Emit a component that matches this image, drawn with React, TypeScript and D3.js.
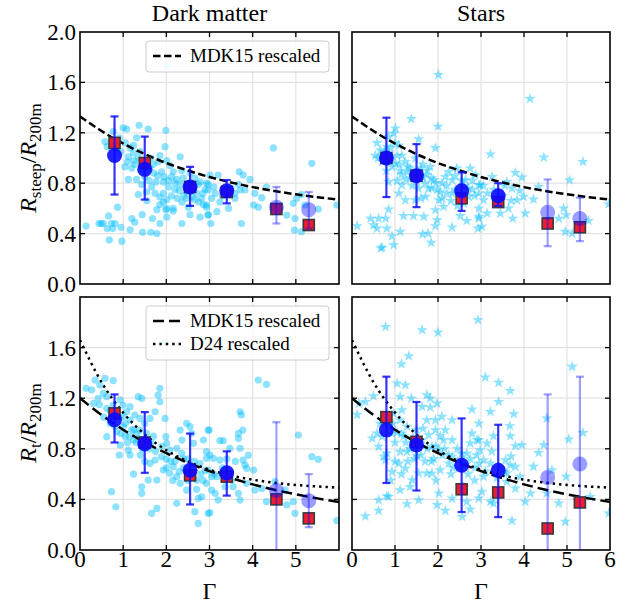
import React from "react";
import * as d3 from "d3";

const W = 641;
const H = 606;
const FONT = "'Liberation Serif', 'Times New Roman', serif";

// ---------- model curves ----------
const curveGamma = [0, 0.5, 1, 1.5, 2, 2.5, 3, 3.5, 4, 4.5, 5, 5.5, 6];
const mdkSteep = [1.33, 1.214, 1.115, 1.031, 0.96, 0.901, 0.849, 0.806, 0.769, 0.738, 0.712, 0.689, 0.67];
const mdkRt = [1.2, 1.067, 0.951, 0.851, 0.765, 0.69, 0.624, 0.568, 0.519, 0.476, 0.44, 0.408, 0.38];
const d24Rt = [1.66, 1.326, 1.086, 0.914, 0.789, 0.7, 0.635, 0.589, 0.556, 0.532, 0.514, 0.502, 0.493];

// ---------- binned statistics ----------
const binGamma = [0.8, 1.5, 2.55, 3.4, 4.55, 5.3];

const dmSteepMed = [1.02, 0.91, 0.77, 0.74, 0.61, 0.59];
const dmSteepLo = [0.71, 0.67, 0.62, 0.64, 0.48, 0.44];
const dmSteepHi = [1.33, 1.17, 0.93, 0.825, 0.77, 0.73];
const dmSteepSq = [1.12, 0.96, 0.77, 0.73, 0.595, 0.468];

const stSteepMed = [1.0, 0.86, 0.74, 0.7, 0.57, 0.52];
const stSteepLo = [0.69, 0.61, 0.58, 0.62, 0.3, 0.34];
const stSteepHi = [1.32, 1.11, 0.886, 0.8, 0.83, 0.685];
const stSteepSq = [1.0, 0.86, 0.68, 0.65, 0.48, 0.45];

const dmRtMed = [1.03, 0.84, 0.63, 0.61, 0.47, 0.39];
const dmRtLo = [0.85, 0.61, 0.36, 0.43, -0.2, 0.18];
const dmRtHi = [1.23, 1.09, 0.92, 0.78, 1.01, 0.6];
const dmRtSq = [1.08, 0.85, 0.59, 0.58, 0.4, 0.25];

const stRtMed = [0.95, 0.83, 0.67, 0.63, 0.574, 0.68];
const stRtLo = [0.53, 0.47, 0.3, 0.26, -0.2, -0.2];
const stRtHi = [1.37, 1.17, 1.04, 0.99, 1.23, 1.37];
const stRtSq = [1.05, 0.855, 0.48, 0.455, 0.17, 0.376];

// ---------- individual haloes ----------
const dmSteepPts = [
  [1.0, 1.24], [1.08, 1.23], [1.37, 1.26], [1.58, 1.23], [1.99, 1.22], [0.77, 1.21], [0.58, 1.13], [0.63, 1.09],
  [0.91, 1.16], [1.16, 1.08], [1.31, 1.16], [1.24, 1.1], [1.39, 1.05], [1.24, 1.04], [1.12, 1.01], [1.04, 0.93],
  [1.2, 0.92], [1.27, 0.95], [1.41, 0.9], [1.62, 0.92], [1.64, 1.0], [1.85, 1.02], [1.81, 0.97], [1.71, 0.88],
  [1.89, 0.89], [1.97, 1.09], [2.01, 0.98], [2.08, 0.94], [2.16, 0.89], [1.93, 0.81], [1.76, 0.81], [1.66, 0.77],
  [1.54, 0.73], [1.43, 0.79], [1.31, 0.83], [1.12, 0.83], [1.35, 0.71], [1.74, 0.72], [1.93, 0.72], [2.05, 0.77],
  [2.12, 0.85], [2.24, 0.83], [2.32, 1.01], [2.36, 0.9], [2.39, 0.84], [2.32, 0.79], [2.2, 0.75], [2.01, 0.67],
  [1.85, 0.63], [2.01, 0.6], [2.16, 0.6], [2.36, 0.65], [2.47, 0.73], [2.66, 0.84], [2.74, 0.79], [2.7, 0.72],
  [2.66, 0.67], [2.82, 0.68], [2.86, 0.63], [2.93, 0.61], [2.78, 0.81], [2.55, 0.88], [2.9, 0.75], [2.97, 0.79],
  [1.85, 0.69], [2.12, 0.7], [1.93, 0.65], [2.46, 0.68], [1.78, 0.59],
  [0.14, 0.46], [0.44, 0.48], [0.54, 0.48], [0.63, 0.44], [0.73, 0.48], [0.81, 0.48], [0.66, 0.54], [0.87, 0.61],
  [0.95, 0.45], [1.16, 0.43], [1.2, 0.52], [1.27, 0.49], [1.44, 0.55], [1.45, 0.41], [1.64, 0.41], [1.78, 0.4],
  [1.68, 0.52], [1.85, 0.48], [2.01, 0.53], [1.99, 0.59], [2.16, 0.58], [2.36, 0.48], [2.51, 0.61], [2.55, 0.55],
  [2.97, 0.55], [2.78, 0.53], [0.68, 0.35], [0.97, 0.34], [0.49, 0.48], [0.76, 0.44], [2.01, 1.73],
  [0.75, 1.1], [0.85, 1.08], [0.95, 1.05], [1.05, 1.12], [1.1, 0.97], [1.25, 0.98], [1.35, 1.0], [1.45, 0.97],
  [1.5, 0.85], [1.6, 0.82], [1.7, 0.95], [1.8, 0.86], [1.95, 0.85], [2.05, 0.82], [2.2, 0.8], [2.3, 0.74],
  [2.4, 0.7], [2.55, 0.75], [2.6, 0.69], [2.75, 0.65], [2.85, 0.72], [3.1, 0.77], [3.3, 0.7], [3.5, 0.76],
  [1.55, 0.66], [2.25, 0.68],
  [3.01, 0.865], [2.93, 0.8], [2.97, 0.746], [3.13, 0.72], [3.2, 0.865], [3.05, 0.68], [3.24, 0.65], [2.93, 0.627],
  [3.17, 0.574], [3.44, 0.6], [2.97, 0.547], [3.03, 0.48], [3.69, 0.89], [3.78, 0.865], [3.94, 0.83], [3.71, 0.746],
  [3.59, 0.72], [3.59, 0.68], [3.82, 0.746], [4.05, 0.72], [4.02, 0.627], [4.13, 0.61], [4.21, 0.685], [4.32, 0.77],
  [4.48, 1.08], [4.79, 0.547], [4.94, 0.64], [4.98, 0.52], [5.02, 0.68], [5.13, 0.71], [5.37, 0.958], [5.21, 0.627],
  [5.52, 0.595], [4.97, 0.428], [5.13, 0.415], [3.74, 0.48], [5.95, 0.627], [3.67, 0.79],
];

const stSteepPts = [
  [1.38, 1.31], [2.0, 1.25], [1.01, 1.235], [0.97, 1.195], [0.85, 1.17], [0.58, 1.12], [0.66, 1.06], [0.54, 1.02],
  [0.81, 1.09], [1.09, 1.1], [1.16, 1.02], [1.24, 0.97], [1.01, 0.957], [1.12, 0.9], [1.28, 0.89], [1.36, 0.84],
  [1.16, 0.785], [0.93, 0.93], [0.85, 0.81], [1.55, 1.15], [1.94, 1.08], [1.82, 0.93], [1.74, 0.865], [1.9, 0.825],
  [1.98, 0.746], [2.09, 0.8], [2.17, 0.85], [2.25, 0.89], [2.33, 0.825], [2.44, 0.918], [2.75, 0.918], [2.64, 0.825],
  [2.87, 0.865], [2.95, 0.785], [2.71, 0.693], [2.6, 0.64], [2.33, 0.72], [2.13, 0.613], [2.02, 0.666], [1.94, 0.587],
  [1.71, 0.693], [1.78, 0.759], [1.63, 0.85], [1.47, 0.997], [0.12, 0.46], [0.43, 0.52], [0.62, 0.52], [0.78, 0.52],
  [0.5, 0.468], [0.58, 0.441], [0.85, 0.592], [0.81, 0.441], [0.93, 0.38], [0.97, 0.31], [0.7, 0.29], [1.2, 0.54],
  [1.43, 0.54], [1.67, 0.534], [1.64, 0.396], [1.77, 0.402], [1.84, 0.328], [1.12, 0.415], [1.98, 0.508], [1.94, 0.46],
  [2.33, 0.45], [2.52, 0.54], [2.67, 0.502], [2.95, 0.52], [2.93, 0.441], [1.47, 0.666], [1.24, 0.666], [1.09, 0.72],
  [1.55, 0.759], [2.01, 1.66], [4.14, 1.47], [0.67, 0.283],
  [1.3, 0.93], [1.45, 0.88], [1.6, 0.92], [1.7, 0.8], [1.85, 0.76], [2.05, 0.73], [2.2, 0.78], [2.4, 0.75],
  [2.5, 0.7], [2.6, 0.78], [2.8, 0.75], [1.05, 1.02], [0.9, 1.0], [1.5, 0.82],
  [0.6, 1.0], [0.7, 0.97], [0.75, 1.05], [0.9, 1.08], [1.0, 1.12], [1.1, 0.95], [1.15, 0.87], [1.25, 0.83],
  [1.35, 0.92], [1.4, 0.78], [1.55, 0.88], [1.65, 0.95], [1.75, 0.9], [1.85, 0.84], [1.95, 0.8], [2.1, 0.68],
  [2.2, 0.72], [2.3, 0.66], [2.45, 0.62], [2.55, 0.82], [2.7, 0.76], [2.8, 0.82], [2.85, 0.7], [3.05, 0.78],
  [3.15, 0.72], [3.3, 0.75], [3.35, 0.66], [3.5, 0.7], [3.55, 0.78], [3.7, 0.66], [3.9, 0.74], [0.8, 0.9],
  [1.05, 0.82], [1.6, 0.68], [2.4, 0.86],
  [3.22, 1.03], [4.46, 1.005], [5.37, 0.97], [5.06, 0.825], [3.26, 0.85], [3.8, 0.883], [3.95, 0.846], [2.98, 0.785],
  [2.95, 0.72], [3.06, 0.666], [3.14, 0.56], [2.95, 0.534], [3.02, 0.455], [3.45, 0.56], [3.64, 0.6], [3.74, 0.52],
  [3.84, 0.666], [3.99, 0.693], [4.03, 0.56], [4.22, 0.672], [4.34, 0.772], [3.72, 0.759], [3.6, 0.81], [4.81, 0.52],
  [4.92, 0.6], [4.98, 0.547], [4.96, 0.415], [5.12, 0.402], [5.5, 0.502], [5.97, 0.635], [2.95, 0.6],
];

const dmRtPts = [
  [0.14, 1.278], [0.27, 1.265], [0.35, 1.344], [0.58, 1.357], [0.77, 1.339], [0.46, 1.304], [0.54, 1.238], [0.42, 1.199],
  [0.31, 1.159], [0.62, 1.12], [0.93, 1.186], [1.0, 1.146], [1.16, 1.133], [1.35, 1.212], [1.43, 1.199], [1.08, 1.093],
  [1.27, 1.067], [1.39, 1.04], [1.85, 1.278], [1.81, 1.225], [1.85, 1.172], [1.74, 1.093], [1.62, 1.04], [1.16, 1.027],
  [1.0, 0.975], [0.85, 0.935], [0.62, 0.896], [0.91, 0.751], [0.93, 0.83], [1.12, 0.79], [1.16, 0.751], [1.31, 0.922],
  [1.39, 0.948], [1.54, 0.922], [1.24, 0.869], [1.24, 0.6], [1.43, 0.5], [1.43, 0.448], [1.58, 0.553], [1.78, 0.553],
  [1.62, 0.685], [1.74, 0.711], [1.89, 0.738], [1.97, 1.04], [1.99, 0.896], [2.01, 0.843], [2.08, 0.79], [2.24, 0.804],
  [2.32, 0.948], [2.36, 0.869], [2.47, 1.001], [2.55, 0.975], [2.59, 0.922], [2.63, 0.843], [2.36, 0.764], [2.16, 0.659],
  [1.93, 0.632], [2.08, 0.606], [2.24, 0.58], [2.32, 0.527], [2.47, 0.474], [2.7, 0.553], [2.78, 0.685], [2.93, 0.725],
  [2.97, 0.948], [2.86, 0.869], [2.82, 0.421], [2.74, 0.408], [2.66, 0.303], [2.24, 0.369], [1.78, 0.329], [1.66, 0.29],
  [2.74, 0.21], [0.73, 0.461], [0.83, 0.342], [2.97, 0.29], [0.62, 1.212], [0.77, 1.146], [1.0, 1.054], [1.54, 0.856],
  [1.99, 1.64],
  [0.9, 1.05], [1.05, 0.9], [1.2, 0.95], [1.3, 0.85], [1.1, 0.85], [1.45, 0.8], [1.6, 0.8], [1.7, 0.9],
  [1.5, 1.0], [0.7, 1.0], [2.2, 0.7], [2.4, 0.65], [2.6, 0.6], [2.8, 0.6], [2.5, 0.72], [2.0, 0.72],
  [0.45, 1.15], [0.55, 1.05], [0.7, 1.1], [0.8, 0.98], [0.95, 0.92], [1.05, 1.0], [1.15, 0.9], [1.25, 0.95],
  [1.35, 0.88], [1.4, 0.75], [1.5, 0.7], [1.65, 0.85], [1.75, 0.78], [1.9, 0.82], [2.0, 0.65], [2.1, 0.7],
  [2.15, 0.55], [2.3, 0.62], [2.4, 0.72], [2.5, 0.55], [2.55, 0.67], [2.65, 0.7], [2.7, 0.48], [2.85, 0.55],
  [2.9, 0.63], [3.1, 0.6], [3.3, 0.65], [3.4, 0.72], [3.6, 0.7], [3.9, 0.75],
  [4.13, 1.344], [4.32, 1.309], [3.71, 1.093], [3.74, 1.067], [3.77, 0.948], [3.67, 0.922], [3.67, 0.883], [3.24, 0.864],
  [3.32, 0.864], [2.99, 0.948], [2.93, 0.777], [3.01, 0.751], [3.09, 0.725], [3.24, 0.711], [3.47, 0.804], [3.71, 0.804],
  [3.78, 0.711], [3.82, 0.672], [3.86, 0.646], [4.02, 0.632], [2.97, 0.632], [3.05, 0.58], [3.17, 0.58], [2.93, 0.527],
  [3.05, 0.474], [3.13, 0.448], [3.2, 0.395], [3.55, 0.5], [3.67, 0.448], [3.71, 0.395], [4.05, 0.474], [4.21, 0.487],
  [4.32, 0.382], [4.52, 0.54], [4.79, 0.356], [4.94, 0.382], [5.06, 0.909], [5.37, 0.738], [5.52, 0.717], [4.98, 0.29],
  [3.01, 0.295], [5.95, 0.232], [3.51, 0.553], [3.36, 0.5], [3.86, 0.527], [4.75, 0.474],
];

const stRtPts = [
  [0.78, 1.765], [1.63, 1.739], [2.0, 1.72], [2.93, 1.818], [1.32, 1.533], [1.15, 1.47], [1.05, 1.317], [1.24, 1.304],
  [0.5, 1.217], [0.16, 1.159], [0.31, 1.172], [1.12, 1.212], [1.38, 1.199], [1.74, 1.225], [1.82, 1.199], [1.98, 1.159],
  [1.63, 1.133], [1.82, 1.128], [1.16, 1.106], [0.97, 1.08], [1.12, 1.027], [1.28, 0.975], [0.93, 0.922], [0.7, 0.896],
  [0.58, 0.922], [0.62, 0.817], [0.81, 0.764], [1.12, 0.777], [1.28, 0.777], [1.74, 1.027], [1.94, 1.027], [2.09, 1.054],
  [2.33, 1.027], [2.17, 0.948], [1.94, 0.948], [1.78, 0.909], [1.63, 0.869], [1.86, 0.817], [2.02, 0.79], [2.33, 0.869],
  [2.13, 0.869], [2.79, 0.922], [2.91, 0.869], [2.75, 0.843], [2.67, 0.764], [2.33, 0.738], [2.25, 0.685], [2.05, 0.632],
  [1.86, 0.606], [1.55, 0.606], [1.4, 0.553], [1.24, 0.645], [1.09, 0.685], [0.93, 0.619], [0.78, 0.711], [0.74, 0.738],
  [0.47, 0.883], [1.12, 0.474], [0.85, 0.421], [0.62, 0.395], [0.31, 0.268], [0.62, 0.311], [0.81, 0.427], [1.28, 0.363],
  [1.55, 0.395], [1.74, 0.606], [2.02, 0.448], [1.98, 0.356], [2.17, 0.311], [2.33, 0.408], [2.67, 0.382], [2.75, 0.321],
  [2.56, 0.263], [2.79, 1.112], [2.95, 1.001], [1.51, 0.743],
  [0.65, 1.0], [0.75, 1.05], [0.85, 0.98], [0.95, 1.0], [1.05, 0.93], [1.15, 0.92], [1.25, 0.85], [1.35, 0.8],
  [1.45, 0.72], [1.55, 0.82], [1.65, 0.96], [1.75, 0.8], [1.85, 0.7], [1.95, 0.82], [2.05, 0.9], [2.15, 0.8],
  [2.25, 0.75], [2.35, 0.65], [2.45, 0.7], [2.55, 0.76], [2.65, 0.68], [2.75, 0.72], [2.9, 0.75], [3.1, 0.62],
  [3.25, 0.78], [3.45, 0.65], [3.55, 0.62], [3.7, 0.74], [0.9, 0.55], [1.15, 0.6], [1.35, 0.5], [2.6, 0.5],
  [2.85, 0.55], [1.95, 0.55],
  [3.1, 1.365], [3.41, 1.323], [3.68, 1.259], [3.22, 1.093], [3.41, 1.172], [3.76, 1.075], [3.67, 0.98], [3.29, 0.901],
  [3.68, 0.901], [3.95, 0.83], [3.8, 0.822], [3.14, 0.843], [2.98, 0.79], [4.34, 0.769], [4.46, 0.83], [2.95, 0.869],
  [3.06, 0.711], [3.22, 0.685], [3.57, 0.711], [3.68, 0.672], [3.8, 0.659], [4.22, 0.659], [3.6, 0.606], [3.91, 0.58],
  [3.06, 0.58], [3.02, 0.461], [2.95, 0.408], [3.22, 0.382], [3.29, 0.369], [3.6, 0.54], [3.8, 0.487], [4.15, 0.448],
  [4.03, 0.382], [3.72, 0.232], [4.53, 1.04], [4.65, 0.632], [4.53, 0.448], [4.81, 0.369], [4.96, 0.224], [5.04, 0.875],
  [5.12, 1.449], [5.37, 0.927], [4.98, 0.58], [5.23, 0.395], [5.54, 0.421], [5.97, 0.29], [3.37, 0.57], [2.95, 0.685],
  [0.12, 1.07],
  [1.0, 0.85], [1.2, 0.9], [1.4, 0.88], [1.5, 0.95], [1.6, 0.75], [1.7, 0.7], [1.9, 0.72], [2.1, 0.75],
  [2.3, 0.6], [2.5, 0.65], [2.6, 0.7], [2.45, 0.8], [1.3, 0.7], [1.0, 0.7], [2.7, 0.6], [2.85, 0.65],
];

// ---------- tick labels ----------
const xTickVals = [0, 1, 2, 3, 4, 5, 6];
const yTickVals = [0, 0.4, 0.8, 1.2, 1.6, 2.0];
const titles = ["Dark matter", "Stars"];

type PanelCfg = {
  id: string;
  x0: number; x1: number; y0: number; y1: number;
  pts: number[][];
  star: boolean;
  med: number[]; lo: number[]; hi: number[]; sq: number[];
  models: { vals: number[]; dash: string }[];
  xLabels: number[];
  yLabels: number[];
};

const LX0 = 80, LX1 = 339, RX0 = 352, RX1 = 610;
const TY0 = 32, TY1 = 284, BY0 = 297, BY1 = 550;
const DASH_TOP = "7.5,3.5";
const DASH_BOT = "11,5";
const DOT = "2.4,4";

const panels: PanelCfg[] = [
  { id: "tl", x0: LX0, x1: LX1, y0: TY0, y1: TY1, pts: dmSteepPts, star: false,
    med: dmSteepMed, lo: dmSteepLo, hi: dmSteepHi, sq: dmSteepSq,
    models: [{ vals: mdkSteep, dash: DASH_TOP }], xLabels: [], yLabels: yTickVals },
  { id: "tr", x0: RX0, x1: RX1, y0: TY0, y1: TY1, pts: stSteepPts, star: true,
    med: stSteepMed, lo: stSteepLo, hi: stSteepHi, sq: stSteepSq,
    models: [{ vals: mdkSteep, dash: DASH_TOP }], xLabels: [], yLabels: [] },
  { id: "bl", x0: LX0, x1: LX1, y0: BY0, y1: BY1, pts: dmRtPts, star: false,
    med: dmRtMed, lo: dmRtLo, hi: dmRtHi, sq: dmRtSq,
    models: [{ vals: mdkRt, dash: DASH_BOT }, { vals: d24Rt, dash: DOT }],
    xLabels: xTickVals.slice(0, 6), yLabels: yTickVals.slice(0, 5) },
  { id: "br", x0: RX0, x1: RX1, y0: BY0, y1: BY1, pts: stRtPts, star: true,
    med: stRtMed, lo: stRtLo, hi: stRtHi, sq: stRtSq,
    models: [{ vals: mdkRt, dash: DASH_BOT }, { vals: d24Rt, dash: DOT }],
    xLabels: xTickVals, yLabels: [] },
];

const starPath = d3.symbol().type(d3.symbolStar).size(40)() as string;

function Panel({ p }: { p: PanelCfg }) {
  const x = d3.scaleLinear().domain([0, 6]).range([p.x0, p.x1]);
  const y = d3.scaleLinear().domain([0, 2]).range([p.y1, p.y0]);
  const line = d3.line<number>()
    .x((_, i) => x(curveGamma[i]))
    .y((v) => y(v))
    .curve(d3.curveMonotoneX);
  const gridX = [1, 2, 3, 4, 5];
  const gridY = [0.4, 0.8, 1.2, 1.6];
  const tl = 5;
  return (
    <g>
      <defs>
        <clipPath id={`clip-${p.id}`}>
          <rect x={p.x0} y={p.y0} width={p.x1 - p.x0} height={p.y1 - p.y0} />
        </clipPath>
      </defs>
      {gridX.map((g) => (
        <line key={`gx${g}`} x1={x(g)} x2={x(g)} y1={p.y0} y2={p.y1} stroke="#e3e3e3" strokeWidth={1.2} />
      ))}
      {gridY.map((g) => (
        <line key={`gy${g}`} x1={p.x0} x2={p.x1} y1={y(g)} y2={y(g)} stroke="#e3e3e3" strokeWidth={1.2} />
      ))}
      <g clipPath={`url(#clip-${p.id})`}>
        {p.pts.map((d, i) =>
          p.star ? (
            <path key={i} d={starPath} transform={`translate(${x(d[0])},${y(d[1])})`} fill="#00bfff" fillOpacity={0.45} />
          ) : (
            <circle key={i} cx={x(d[0])} cy={y(d[1])} r={3.6} fill="#00bfff" fillOpacity={0.45} />
          )
        )}
        {p.models.map((m, i) => (
          <path key={i} d={line(m.vals) as string} fill="none" stroke="#000" strokeWidth={2.5}
            strokeDasharray={m.dash} />
        ))}
        {binGamma.map((g, i) => (
          <rect key={`sq${i}`} x={x(g) - 5.5} y={y(p.sq[i]) - 5.5} width={11} height={11}
            fill="#ee1c2c" stroke="#3a3a3a" strokeWidth={1.6} />
        ))}
        {binGamma.map((g, i) => {
          const op = i >= 4 ? 0.4 : 0.85;
          return (
            <g key={`eb${i}`} stroke="#1010ff" strokeOpacity={op} strokeWidth={2.2}>
              <line x1={x(g)} x2={x(g)} y1={y(p.lo[i])} y2={y(p.hi[i])} />
              <line x1={x(g) - 4} x2={x(g) + 4} y1={y(p.hi[i])} y2={y(p.hi[i])} />
              <line x1={x(g) - 4} x2={x(g) + 4} y1={y(p.lo[i])} y2={y(p.lo[i])} />
            </g>
          );
        })}
        {binGamma.map((g, i) => (
          <circle key={`c${i}`} cx={x(g)} cy={y(p.med[i])} r={7.5} fill="#0a0aff"
            fillOpacity={i >= 4 ? 0.4 : 0.9} />
        ))}
      </g>
      {gridX.map((g) => (
        <g key={`tx${g}`} stroke="#000" strokeWidth={1.3}>
          <line x1={x(g)} x2={x(g)} y1={p.y1} y2={p.y1 - tl} />
          <line x1={x(g)} x2={x(g)} y1={p.y0} y2={p.y0 + tl} />
        </g>
      ))}
      {gridY.map((g) => (
        <g key={`ty${g}`} stroke="#000" strokeWidth={1.3}>
          <line x1={p.x0} x2={p.x0 + tl} y1={y(g)} y2={y(g)} />
          <line x1={p.x1} x2={p.x1 - tl} y1={y(g)} y2={y(g)} />
        </g>
      ))}
      <rect x={p.x0} y={p.y0} width={p.x1 - p.x0} height={p.y1 - p.y0} fill="none" stroke="#000" strokeWidth={1.6} />
      {p.xLabels.map((v) => (
        <text key={`xl${v}`} x={x(v)} y={567} textAnchor="middle" fontSize={23} fontFamily={FONT}>{v}</text>
      ))}
      {p.yLabels.map((v) => (
        <text key={`yl${v}`} x={p.x0 - 4} y={y(v) + 8} textAnchor="end" fontSize={23} fontFamily={FONT}>
          {v.toFixed(1)}
        </text>
      ))}
    </g>
  );
}

function Legend({ x, y, items }: { x: number; y: number; items: { label: string; dash: string }[] }) {
  const h = 8 + items.length * 23;
  return (
    <g>
      <rect x={x} y={y} width={183} height={h} rx={3} fill="#fff" fillOpacity={0.85} stroke="#cccccc" strokeWidth={1} />
      {items.map((it, i) => {
        const cy = y + 15 + i * 23;
        return (
          <g key={i}>
            <line x1={x + 7} x2={x + 35} y1={cy} y2={cy} stroke="#000" strokeWidth={2.5} strokeDasharray={it.dash} />
            <text x={x + 44} y={cy + 6} fontSize={19} fontFamily={FONT}>{it.label}</text>
          </g>
        );
      })}
    </g>
  );
}

function YLabel({ cx, cy, sub }: { cx: number; cy: number; sub: string }) {
  return (
    <text transform={`translate(${cx},${cy}) rotate(-90)`} textAnchor="middle" fontSize={24} fontFamily={FONT}>
      <tspan fontStyle="italic">R</tspan>
      <tspan fontSize={17} dy={5}>{sub}</tspan>
      <tspan dy={-5}>/</tspan>
      <tspan fontStyle="italic">R</tspan>
      <tspan fontSize={17} dy={5}>200m</tspan>
    </text>
  );
}

export default function App() {
  return (
    <svg width={W} height={H} viewBox={`0 0 ${W} ${H}`}
      style={{ position: "absolute", left: 0, top: 0, background: "#fff" }}>
      <rect width={W} height={H} fill="#fff" />
      {panels.map((p) => (
        <Panel key={p.id} p={p} />
      ))}
      <Legend x={146} y={41} items={[{ label: "MDK15 rescaled", dash: DASH_TOP }]} />
      <Legend x={146} y={306} items={[
        { label: "MDK15 rescaled", dash: DASH_BOT },
        { label: "D24 rescaled", dash: DOT },
      ]} />
      <text x={(LX0 + LX1) / 2} y={21} textAnchor="middle" fontSize={24} fontFamily={FONT}>{titles[0]}</text>
      <text x={(RX0 + RX1) / 2} y={21} textAnchor="middle" fontSize={24} fontFamily={FONT}>{titles[1]}</text>
      <YLabel cx={36} cy={158} sub="steep" />
      <YLabel cx={36} cy={423} sub="t" />
      <text x={(LX0 + LX1) / 2} y={599} textAnchor="middle" fontSize={24} fontFamily={FONT}>Γ</text>
      <text x={(RX0 + RX1) / 2} y={599} textAnchor="middle" fontSize={24} fontFamily={FONT}>Γ</text>
    </svg>
  );
}
